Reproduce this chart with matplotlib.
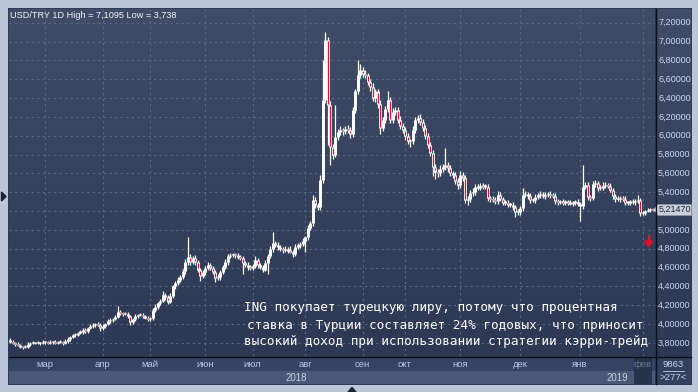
import matplotlib
matplotlib.use('Agg')
import matplotlib.pyplot as plt
import numpy as np
from matplotlib.patches import Rectangle, Polygon
from matplotlib.colors import LinearSegmentedColormap
from matplotlib.transforms import blended_transform_factory

# ---------------- data ----------------
first_open = 3.83
closes = [
    3.815, 3.80, 3.79, 3.78, 3.76, 3.755, 3.76, 3.79, 3.80, 3.80,
    3.80, 3.80, 3.80, 3.81, 3.81, 3.80, 3.81, 3.81, 3.80, 3.81,
    3.81, 3.80, 3.82, 3.84, 3.86, 3.88, 3.89, 3.91, 3.92, 3.94,
    3.93, 3.96, 3.98, 3.99, 4.00, 3.99, 3.96, 3.98, 4.00, 4.03,
    4.04, 4.05, 4.08, 4.13, 4.12, 4.11, 4.11, 4.09, 4.02, 4.05,
    4.09, 4.10, 4.10, 4.09, 4.07, 4.05, 4.06, 4.15, 4.18, 4.22,
    4.25, 4.31, 4.29, 4.24, 4.30, 4.40, 4.44, 4.47, 4.50, 4.56,
    4.66, 4.71, 4.66, 4.70, 4.66, 4.58, 4.51, 4.55, 4.60, 4.63,
    4.60, 4.55, 4.49, 4.50, 4.55, 4.61, 4.66, 4.72, 4.73, 4.74,
    4.73, 4.71, 4.70, 4.65, 4.63, 4.61, 4.60, 4.62, 4.68, 4.63,
    4.61, 4.58, 4.65, 4.72, 4.80, 4.86, 4.84, 4.82, 4.80, 4.79,
    4.80, 4.78, 4.77, 4.74, 4.82, 4.84, 4.85, 4.88, 4.92, 5.02,
    5.07, 5.32, 5.27, 5.24, 5.53, 6.38, 7.02, 6.33, 5.88, 5.80,
    5.99, 6.04, 6.06, 6.05, 6.07, 6.06, 6.02, 6.27, 6.47, 6.64,
    6.70, 6.66, 6.64, 6.57, 6.52, 6.40, 6.47, 6.34, 6.08, 6.17,
    6.28, 6.38, 6.17, 6.25, 6.27, 6.17, 6.10, 6.06, 6.00, 5.94,
    5.94, 6.06, 6.17, 6.19, 6.15, 6.08, 6.00, 5.90, 5.82, 5.67,
    5.62, 5.60, 5.65, 5.67, 5.69, 5.66, 5.60, 5.58, 5.52, 5.48,
    5.58, 5.55, 5.32, 5.33, 5.39, 5.40, 5.46, 5.45, 5.47, 5.46,
    5.46, 5.34, 5.33, 5.32, 5.31, 5.37, 5.33, 5.29, 5.29, 5.27,
    5.27, 5.24, 5.19, 5.19, 5.23, 5.37, 5.38, 5.36, 5.32, 5.32,
    5.35, 5.37, 5.38, 5.36, 5.37, 5.38, 5.37, 5.36, 5.31, 5.30,
    5.30, 5.29, 5.30, 5.29, 5.28, 5.29, 5.30, 5.28, 5.25, 5.46,
    5.48, 5.35, 5.34, 5.49, 5.50, 5.44, 5.45, 5.47, 5.48, 5.47,
    5.42, 5.36, 5.33, 5.33, 5.34, 5.33, 5.29, 5.29, 5.30, 5.30,
    5.31, 5.32, 5.18, 5.18, 5.20, 5.21, 5.22, 5.2147,
]
wick_up = [
    0.02, 0.02, 0.01, 0.02, 0.01, 0.01, 0.02, 0.02, 0.01, 0.02,
    0.01, 0.02, 0.01, 0.02, 0.01, 0.01, 0.02, 0.01, 0.02, 0.01,
    0.02, 0.01, 0.02, 0.02, 0.01, 0.02, 0.02, 0.01, 0.02, 0.02,
    0.02, 0.01, 0.02, 0.02, 0.01, 0.02, 0.02, 0.02, 0.01, 0.02,
    0.02, 0.01, 0.02, 0.06, 0.02, 0.01, 0.02, 0.02, 0.01, 0.02,
    0.02, 0.01, 0.02, 0.02, 0.01, 0.02, 0.02, 0.02, 0.03, 0.02,
    0.02, 0.04, 0.02, 0.02, 0.03, 0.02, 0.02, 0.03, 0.02, 0.03,
    0.03, 0.22, 0.03, 0.02, 0.03, 0.02, 0.02, 0.03, 0.02, 0.03,
    0.02, 0.02, 0.02, 0.03, 0.02, 0.02, 0.03, 0.02, 0.03, 0.02,
    0.02, 0.03, 0.02, 0.02, 0.02, 0.03, 0.02, 0.02, 0.04, 0.02,
    0.02, 0.02, 0.03, 0.02, 0.03, 0.12, 0.02, 0.03, 0.02, 0.02,
    0.03, 0.02, 0.05, 0.02, 0.03, 0.02, 0.02, 0.03, 0.02, 0.03,
    0.03, 0.05, 0.03, 0.02, 0.05, 0.42, 0.08, 0.03, 0.04, 0.03,
    0.34, 0.03, 0.04, 0.02, 0.03, 0.04, 0.03, 0.04, 0.03, 0.16,
    0.06, 0.03, 0.04, 0.03, 0.03, 0.04, 0.03, 0.03, 0.04, 0.03,
    0.04, 0.09, 0.03, 0.04, 0.03, 0.03, 0.04, 0.03, 0.03, 0.03,
    0.03, 0.04, 0.03, 0.03, 0.04, 0.03, 0.03, 0.03, 0.03, 0.03,
    0.03, 0.03, 0.04, 0.03, 0.18, 0.03, 0.03, 0.03, 0.03, 0.03,
    0.05, 0.03, 0.03, 0.03, 0.03, 0.04, 0.03, 0.03, 0.03, 0.03,
    0.03, 0.03, 0.02, 0.03, 0.03, 0.04, 0.03, 0.02, 0.03, 0.03,
    0.02, 0.03, 0.02, 0.03, 0.02, 0.07, 0.03, 0.02, 0.03, 0.02,
    0.03, 0.02, 0.03, 0.02, 0.03, 0.02, 0.03, 0.02, 0.03, 0.02,
    0.02, 0.03, 0.02, 0.02, 0.03, 0.02, 0.02, 0.03, 0.02, 0.23,
    0.03, 0.03, 0.02, 0.03, 0.03, 0.02, 0.03, 0.04, 0.03, 0.02,
    0.03, 0.02, 0.02, 0.03, 0.02, 0.02, 0.03, 0.02, 0.02, 0.03,
    0.02, 0.05, 0.02, 0.02, 0.01, 0.02, 0.01, 0.01,
]
wick_dn = [
    0.02, 0.01, 0.02, 0.01, 0.01, 0.02, 0.01, 0.01, 0.02, 0.01,
    0.01, 0.01, 0.02, 0.01, 0.02, 0.01, 0.01, 0.02, 0.01, 0.01,
    0.01, 0.02, 0.01, 0.02, 0.02, 0.01, 0.02, 0.02, 0.01, 0.02,
    0.02, 0.02, 0.01, 0.02, 0.02, 0.01, 0.03, 0.02, 0.02, 0.01,
    0.02, 0.02, 0.01, 0.02, 0.02, 0.02, 0.01, 0.02, 0.03, 0.02,
    0.02, 0.02, 0.01, 0.02, 0.02, 0.02, 0.02, 0.02, 0.02, 0.02,
    0.02, 0.02, 0.03, 0.03, 0.02, 0.02, 0.03, 0.02, 0.02, 0.02,
    0.03, 0.03, 0.03, 0.02, 0.03, 0.03, 0.05, 0.02, 0.03, 0.02,
    0.03, 0.02, 0.04, 0.02, 0.03, 0.02, 0.02, 0.03, 0.02, 0.02,
    0.03, 0.02, 0.02, 0.12, 0.02, 0.03, 0.02, 0.03, 0.02, 0.03,
    0.02, 0.03, 0.02, 0.12, 0.02, 0.03, 0.02, 0.03, 0.02, 0.03,
    0.02, 0.03, 0.02, 0.03, 0.02, 0.02, 0.03, 0.02, 0.11, 0.03,
    0.02, 0.03, 0.04, 0.03, 0.03, 0.03, 0.03, 0.43, 0.19, 0.05,
    0.03, 0.04, 0.03, 0.04, 0.03, 0.03, 0.04, 0.03, 0.03, 0.03,
    0.03, 0.04, 0.03, 0.03, 0.04, 0.03, 0.04, 0.05, 0.06, 0.03,
    0.03, 0.03, 0.04, 0.03, 0.03, 0.04, 0.03, 0.03, 0.05, 0.03,
    0.06, 0.03, 0.03, 0.03, 0.04, 0.03, 0.03, 0.03, 0.04, 0.10,
    0.08, 0.04, 0.03, 0.03, 0.03, 0.04, 0.03, 0.03, 0.03, 0.05,
    0.03, 0.03, 0.03, 0.05, 0.03, 0.03, 0.03, 0.03, 0.03, 0.03,
    0.03, 0.03, 0.03, 0.02, 0.03, 0.03, 0.02, 0.03, 0.03, 0.03,
    0.03, 0.03, 0.05, 0.03, 0.03, 0.03, 0.02, 0.03, 0.03, 0.02,
    0.03, 0.02, 0.03, 0.02, 0.03, 0.02, 0.03, 0.02, 0.03, 0.03,
    0.02, 0.03, 0.02, 0.03, 0.02, 0.03, 0.02, 0.03, 0.16, 0.03,
    0.03, 0.03, 0.03, 0.02, 0.03, 0.03, 0.02, 0.03, 0.02, 0.03,
    0.02, 0.03, 0.03, 0.02, 0.03, 0.02, 0.02, 0.03, 0.02, 0.02,
    0.03, 0.02, 0.03, 0.02, 0.02, 0.01, 0.02, 0.01,
]
month_ticks = [14, 37, 56, 78, 97, 118, 141, 158, 180, 204, 228, 253]
month_labels = ['мар', 'апр', 'май', 'июн', 'июл', 'авг',
                'сен', 'окт', 'ноя', 'дек', 'янв', 'фев']
year_ticks = [114.5, 243]
year_labels = ['2018', '2019']
price_ticks = [3.8, 4.0, 4.2, 4.4, 4.6, 4.8, 5.0, 5.2, 5.4, 5.6,
               5.8, 6.0, 6.2, 6.4, 6.6, 6.8, 7.0, 7.2]
last_price = 5.2147
title_text = 'USD/TRY 1D High = 7,1095 Low = 3,738'
note_lines = ['ING покупает турецкую лиру, потому что процентная',
              'ставка в Турции составляет 24% годовых, что приносит',
              'высокий доход при использовании стратегии кэрри-трейд']
volume_text = '9863'
count_text = '>277<'

# ---------------- figure ----------------
W, H = 698, 392
fig = plt.figure(figsize=(W / 100, H / 100), dpi=100)
fig.patch.set_facecolor('#bac6d6')


def fx(x):
    return x / W


def fy(y):
    return 1 - y / H


def frect(x0, y0, x1, y1, color, z=-5):
    fig.patches.append(Rectangle((fx(x0), fy(y1)), (x1 - x0) / W, (y1 - y0) / H,
                                 transform=fig.transFigure, color=color,
                                 zorder=z, lw=0))


frect(8, 8, 692, 385, '#2f3b57')
frect(9, 357, 655, 371, '#364464')
frect(9, 371, 655, 384, '#4b5977')
frect(656, 357, 691, 384, '#33415e')

ylim = (7.2 - (356 - 22.7) / 94.2, 7.2 + (22.7 - 9) / 94.2)
xlim = (-0.4, 258.0)

cmap = LinearSegmentedColormap.from_list('bg', ['#2d3854', '#414d68'])
grad = np.linspace(0, 1, 256).reshape(-1, 1)

ax = fig.add_axes([fx(9), fy(356), (655 - 9) / W, (356 - 9) / H])
ax.patch.set_alpha(0)
ax.imshow(grad, extent=[xlim[0], xlim[1], ylim[0], ylim[1]], aspect='auto',
          cmap=cmap, origin='lower', zorder=0)
ax.set_xlim(*xlim)
ax.set_ylim(*ylim)
ax.set_xticks(month_ticks)
ax.set_yticks(price_ticks)
ax.tick_params(length=0, labelbottom=False, labelleft=False)
ax.grid(True, color='#5a6785', linestyle=(0, (2, 3)), lw=0.8, zorder=1)
for s in ax.spines.values():
    s.set_visible(False)

# candles
c = np.array(closes)
o = np.concatenate([[first_open], c[:-1]])
hi = np.maximum(o, c) + np.array(wick_up)
lo = np.minimum(o, c) - np.array(wick_dn)
idx = np.arange(len(c))
btm = np.minimum(o, c)
top = np.maximum(np.maximum(o, c), btm + 0.012)
down = c < o

ax.vlines(idx, lo, hi, color='white', lw=0.9, zorder=3)
bl = ax.vlines(idx, btm, top, color='white', lw=2.1, zorder=4)
bl.set_capstyle('butt')
rl = ax.vlines(idx[down], btm[down] + 0.011, top[down] - 0.011,
               color='#e5102f', lw=0.9, zorder=5)
rl.set_capstyle('butt')

# last price dotted line
ax.plot([idx[-1], xlim[1]], [last_price, last_price], color='white',
        lw=0.8, ls=(0, (1, 1.5)), zorder=3)

# title
fig.text(fx(10), fy(16), title_text, color='#eef2f8', fontsize=6.6,
         family=['Liberation Sans', 'DejaVu Sans'], va='center', ha='left')

# note text
note_x = [244, 247, 244]
note_base = [311.5, 328.5, 345.5]
for t, xx, yy in zip(note_lines, note_x, note_base):
    fig.text(fx(xx), fy(yy), t, color='white', fontsize=9.1,
             family=['DejaVu Sans Mono'], va='baseline', ha='left')

# month & year labels
bt = blended_transform_factory(ax.transData, fig.transFigure)
for m, lab in zip(month_ticks, month_labels):
    col = '#6d7a94' if lab == 'фев' else '#b9c7de'
    if lab == 'фев':
        fig.patches.append(Rectangle((m - 3.4, fy(384)), 7.2, (384 - 358) / H,
                                     transform=bt, color='#27324b', lw=0, zorder=-1))
    ax.text(m, fy(364.5), lab, transform=bt, color=col, fontsize=6.8,
            family=['Liberation Sans', 'DejaVu Sans'], ha='center', va='center',
            clip_on=False)
for yv, lab in zip(year_ticks, year_labels):
    ax.text(yv, fy(378), lab, transform=bt, color='#c3cfe2', fontsize=6.9,
            family=['Liberation Sans', 'DejaVu Sans'], ha='center', va='center',
            clip_on=False)

# right price axis
rax = fig.add_axes([fx(656), fy(356), (691 - 656) / W, (356 - 9) / H])
rax.imshow(grad, extent=[0, 1, ylim[0], ylim[1]], aspect='auto', cmap=cmap,
           origin='lower', zorder=0)
rax.set_xlim(0, 1)
rax.set_ylim(*ylim)
rax.axis('off')
for p in price_ticks:
    rax.text(0.06, p, f'{p:.5f}'.replace('.', ','), color='#cad6ea',
             fontsize=6.5, family=['Liberation Sans', 'DejaVu Sans'],
             va='center', ha='left', zorder=2)
half = 5.5 / 94.2
rax.add_patch(Rectangle((0.04, last_price - half), 0.97, 2 * half,
                        facecolor='#c9ced8', edgecolor='#8d96a8', lw=0.5, zorder=3,
                        clip_on=False))
rax.add_patch(Polygon([[0.04, last_price - half * 0.7], [0.04, last_price + half * 0.7],
                       [-0.04, last_price]], closed=True, color='#c9ced8', zorder=3,
                      clip_on=False))
rax.text(0.08, last_price, f'{last_price:.5f}'.replace('.', ','), color='#1d2638',
         fontsize=6.5, family=['Liberation Sans', 'DejaVu Sans'], va='center',
         ha='left', zorder=4)

# bottom-right counters
fig.text(fx(673.5), fy(364.5), volume_text, color='#c6d3e8', fontsize=6.8,
         family=['Liberation Sans', 'DejaVu Sans'], ha='center', va='center')
fig.text(fx(673.5), fy(378), count_text, color='#c6d3e8', fontsize=6.8,
         family=['Liberation Sans', 'DejaVu Sans'], ha='center', va='center')
fig.add_artist(plt.Line2D([fx(663), fx(684)], [fy(371), fy(371)],
                          color='#c6d3e8', lw=0.6))

# frame lines
fig.add_artist(plt.Line2D([fx(9), fx(691)], [fy(356.5), fy(356.5)],
                          color='#0b0f18', lw=1.0, zorder=5))
fig.add_artist(plt.Line2D([fx(655.5), fx(655.5)], [fy(9), fy(384)],
                          color='#0b0f18', lw=1.0, zorder=5))

# red down arrow
fig.add_artist(plt.Line2D([fx(648.5), fx(648.5)], [fy(236), fy(242)],
                          color='#e3102a', lw=1.6, zorder=5))
fig.patches.append(Polygon([[fx(644.5), fy(241)], [fx(652.5), fy(241)],
                            [fx(648.5), fy(247)]], closed=True,
                           transform=fig.transFigure, color='#e3102a', zorder=5))

# small scroll markers on frame
fig.patches.append(Polygon([[fx(1.5), fy(192)], [fx(1.5), fy(201)], [fx(6), fy(196.5)]],
                           closed=True, transform=fig.transFigure, color='#1a2233', zorder=5))
fig.patches.append(Polygon([[fx(348), fy(392)], [fx(356), fy(392)], [fx(352), fy(387.5)]],
                           closed=True, transform=fig.transFigure, color='#1a2233', zorder=5))

fig.savefig('out.png', dpi=100, facecolor=fig.get_facecolor())
